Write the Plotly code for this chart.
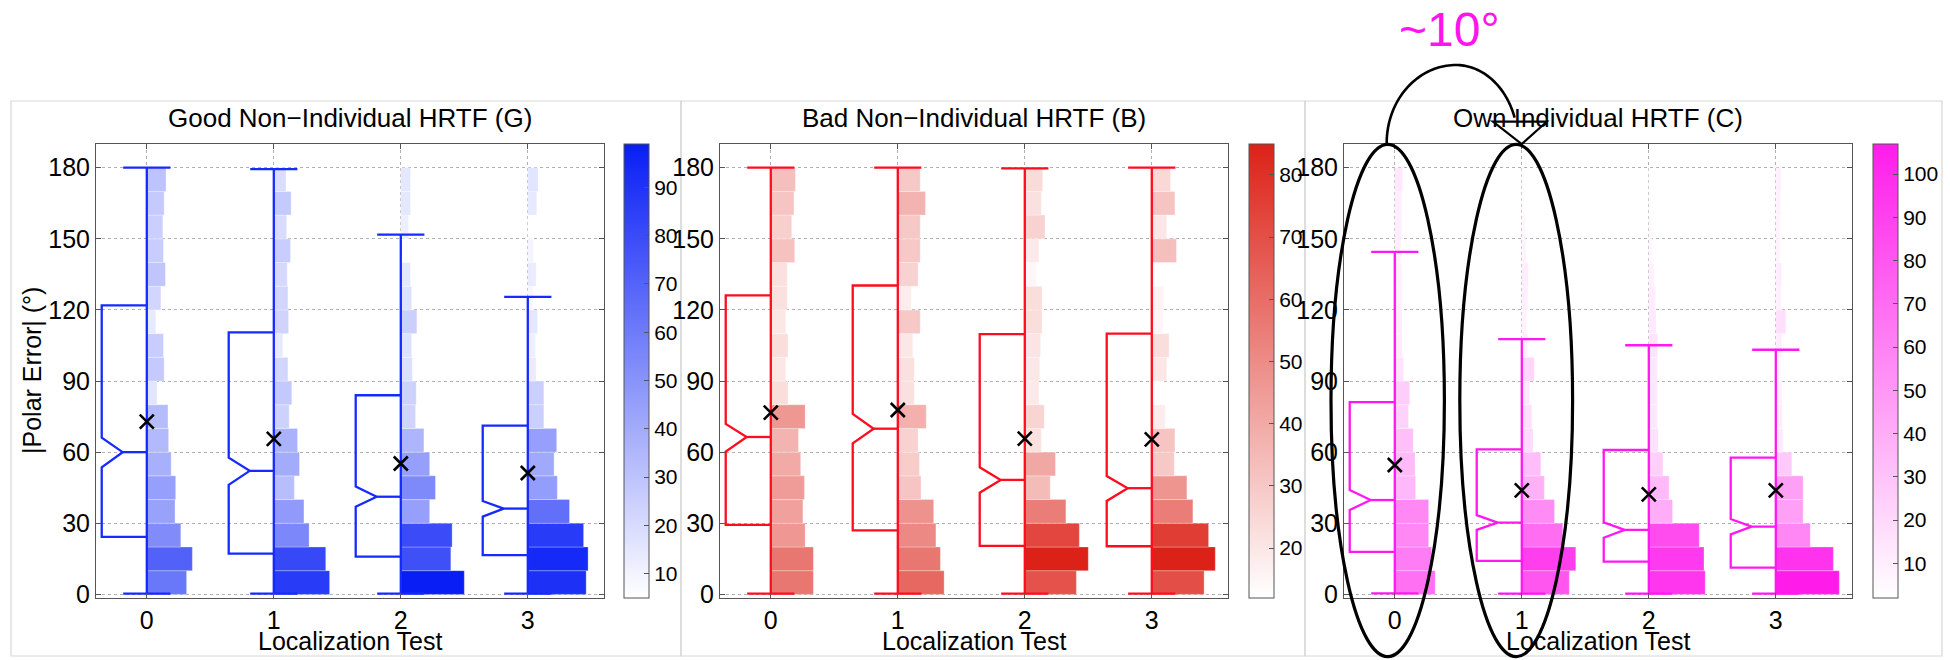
import plotly.graph_objects as go
import math

W, H = 1950, 660

# ---------------- data ----------------
tests = [0, 1, 2, 3]
test_labels = ["0", "1", "2", "3"]
bin_centers = [5, 15, 25, 35, 45, 55, 65, 75, 85, 95, 105, 115, 125, 135, 145, 155, 165, 175]
y_ticks = [0, 30, 60, 90, 120, 150, 180]

panel_titles = ["Good Non\u2212Individual HRTF (G)", "Bad Non\u2212Individual HRTF (B)", "Own Individual HRTF (C)"]

# histogram counts per 10-degree bin (0-10 ... 170-180), one row per localization test
good_counts = [
    [62, 71, 53, 44, 45, 38, 34, 33, 16, 27, 26, 14, 22, 29, 26, 25, 27, 30],
    [87, 81, 55, 47, 32, 40, 37, 24, 28, 22, 14, 23, 22, 21, 26, 20, 27, 19],
    [99, 78, 80, 45, 54, 45, 36, 23, 24, 18, 17, 25, 17, 15, 0, 12, 15, 15],
    [91, 94, 87, 65, 46, 41, 45, 25, 25, 13, 12, 15, 8, 13, 9, 5, 14, 16],
]
bad_counts = [
    [57, 57, 46, 43, 45, 40, 37, 46, 23, 20, 23, 20, 22, 22, 32, 28, 31, 33],
    [62, 57, 51, 48, 31, 29, 27, 38, 22, 22, 20, 30, 18, 27, 30, 30, 37, 30],
    [69, 85, 73, 55, 34, 41, 22, 26, 19, 20, 21, 23, 23, 15, 19, 27, 22, 24],
    [70, 85, 76, 55, 47, 30, 31, 18, 12, 20, 23, 15, 16, 12, 33, 20, 31, 25],
]
own_counts = [
    [68, 62, 57, 57, 35, 34, 31, 23, 25, 15, 12, 12, 11, 11, 10, 11, 11, 13],
    [80, 91, 69, 55, 38, 32, 19, 17, 13, 21, 10, 8, 10, 11, 7, 6, 4, 4],
    [95, 93, 85, 40, 34, 24, 16, 14, 14, 14, 15, 12, 11, 9, 6, 5, 4, 2],
    [107, 97, 58, 46, 46, 27, 12, 11, 10, 8, 10, 17, 9, 10, 7, 7, 8, 9],
]

# box statistics per test
good_whisker_hi = [180, 179.4, 151.8, 125.5]
good_whisker_lo = [0.3, 0.3, 0.3, 0.3]
good_q3 = [121.9, 110.5, 84.0, 71.2]
good_notch_hi = [66.1, 57.7, 45.5, 39.4]
good_median = [60.0, 52.1, 41.2, 36.2]
good_notch_lo = [53.6, 46.2, 37.0, 32.8]
good_q1 = [24.3, 17.2, 15.9, 16.6]
good_mean = [72.9, 65.6, 55.2, 51.2]

bad_whisker_hi = [180, 180, 179.7, 180]
bad_whisker_lo = [0.3, 0.3, 0.3, 0.3]
bad_q3 = [126.1, 130.3, 109.8, 110.0]
bad_notch_hi = [71.9, 76.1, 53.6, 49.9]
bad_median = [66.4, 69.9, 48.3, 44.8]
bad_notch_lo = [60.2, 63.7, 42.9, 39.4]
bad_q1 = [29.3, 27.0, 20.5, 20.3]
bad_mean = [76.7, 77.8, 65.7, 65.4]

own_whisker_hi = [144.5, 107.7, 105.1, 103.2]
own_whisker_lo = [0.4, 0.3, 0.3, 0.3]
own_q3 = [81.1, 61.2, 60.9, 57.7]
own_notch_hi = [44.0, 33.4, 30.4, 31.8]
own_median = [39.8, 30.3, 27.2, 28.6]
own_notch_lo = [35.6, 27.2, 23.9, 25.3]
own_q1 = [17.9, 14.1, 13.8, 11.3]
own_mean = [54.6, 43.9, 42.2, 43.9]

annot_text = "~10\u00b0"

# ---------------- styling / layout ----------------
FONT = "Liberation Sans, Arial, Helvetica, sans-serif"
BOX_W = 0.355      # half-box width (x units)
NOTCH_X = 0.19     # notch depth position
CAP_W = 0.186      # whisker cap half-width
BAR_MAX = 0.5      # width of the largest histogram bar

def px_x(p):
    return p / W

def px_y(p):
    return 1 - p / H

panels = [
    dict(counts=good_counts, whi=good_whisker_hi, wlo=good_whisker_lo, q3=good_q3, nhi=good_notch_hi,
         med=good_median, nlo=good_notch_lo, q1=good_q1, mean=good_mean,
         line="rgb(22,42,255)", top="rgb(8,30,245)",
         ax=(96, 604), cb=623.5, frame=(11, 681)),
    dict(counts=bad_counts, whi=bad_whisker_hi, wlo=bad_whisker_lo, q3=bad_q3, nhi=bad_notch_hi,
         med=bad_median, nlo=bad_notch_lo, q1=bad_q1, mean=bad_mean,
         line="rgb(255,12,30)", top="rgb(220,34,24)",
         ax=(720, 1228), cb=1249, frame=(681, 1305)),
    dict(counts=own_counts, whi=own_whisker_hi, wlo=own_whisker_lo, q3=own_q3, nhi=own_notch_hi,
         med=own_median, nlo=own_notch_lo, q1=own_q1, mean=own_mean,
         line="rgb(255,25,240)", top="rgb(255,28,235)",
         ax=(1344, 1852), cb=1873, frame=(1305, 1942)),
]

AX_TOP, AX_BOT = 144, 597.7

fig = go.Figure()
shapes = []
annotations = []

for i, p in enumerate(panels):
    xa = "x" if i == 0 else f"x{i+1}"
    ya = "y" if i == 0 else f"y{i+1}"
    flat = [c for row in p["counts"] for c in row if c > 0]
    cmin, cmax = min(flat), max(flat)

    bx, by, bbase, bcol = [], [], [], []
    for t, row in zip(tests, p["counts"]):
        for yc, c in zip(bin_centers, row):
            if c > 0:
                bx.append(BAR_MAX * c / cmax)
                by.append(yc)
                bbase.append(t)
                bcol.append(c)

    fig.add_trace(go.Bar(
        orientation="h", x=bx, y=by, base=bbase, width=10,
        marker=dict(
            color=bcol, cmin=cmin, cmax=cmax,
            colorscale=[[0, "rgb(255,255,255)"], [1, p["top"]]],
            line=dict(width=0.8, color="rgba(255,255,255,0.35)"),
            showscale=True,
            colorbar=dict(
                x=px_x(p["cb"]), xanchor="left", xref="paper",
                y=px_y((AX_TOP + AX_BOT) / 2), yanchor="middle", yref="paper",
                thickness=25, thicknessmode="pixels",
                len=AX_BOT - AX_TOP, lenmode="pixels",
                xpad=0, ypad=0,
                outlinecolor="#555555", outlinewidth=1,
                ticks="inside", ticklen=5, tickcolor="#555555",
                tick0=0, dtick=10,
                tickfont=dict(family=FONT, size=21, color="black"),
            ),
        ),
        xaxis=xa, yaxis=ya, hoverinfo="skip", showlegend=False,
    ))

    lx, ly = [], []
    for k, t in enumerate(tests):
        lx += [t, t - BOX_W, t - BOX_W, t - NOTCH_X, t - BOX_W, t - BOX_W, t, None]
        ly += [p["q3"][k], p["q3"][k], p["nhi"][k], p["med"][k], p["nlo"][k], p["q1"][k], p["q1"][k], None]
        lx += [t - NOTCH_X, t, None]
        ly += [p["med"][k], p["med"][k], None]
        lx += [t, t, None]
        ly += [p["wlo"][k], p["whi"][k], None]
        lx += [t - CAP_W, t + CAP_W, None, t - CAP_W, t + CAP_W, None]
        ly += [p["whi"][k], p["whi"][k], None, p["wlo"][k], p["wlo"][k], None]

    fig.add_trace(go.Scatter(
        x=lx, y=ly, mode="lines", line=dict(color=p["line"], width=2.3),
        xaxis=xa, yaxis=ya, hoverinfo="skip", showlegend=False,
    ))

    fig.add_trace(go.Scatter(
        x=tests, y=p["mean"], mode="markers",
        marker=dict(symbol="x-thin", size=14, line=dict(width=2.6, color="black")),
        xaxis=xa, yaxis=ya, hoverinfo="skip", showlegend=False,
    ))

    axis_common = dict(
        showline=True, mirror="ticks", linecolor="#555555", linewidth=1,
        ticks="inside", ticklen=5, tickcolor="#555555",
        showgrid=True, gridcolor="#b0b0b0", gridwidth=1, griddash="dot",
        zeroline=False, tickfont=dict(family=FONT, size=25, color="black"),
        automargin=False,
    )
    xkey = "xaxis" if i == 0 else f"xaxis{i+1}"
    ykey = "yaxis" if i == 0 else f"yaxis{i+1}"
    fig.update_layout(**{
        xkey: dict(axis_common, domain=[px_x(p["ax"][0]), px_x(p["ax"][1])], range=[-0.4, 3.6],
                   tickvals=tests, ticktext=test_labels, anchor=ya),
        ykey: dict(axis_common, domain=[px_y(AX_BOT), px_y(AX_TOP)], range=[-1.4, 190],
                   tickvals=y_ticks, anchor=xa),
    })

    cx = (p["ax"][0] + p["ax"][1]) / 2
    annotations.append(dict(text=panel_titles[i], x=px_x(cx), y=px_y(118), xref="paper", yref="paper",
                            showarrow=False, xanchor="center", yanchor="middle",
                            font=dict(family=FONT, size=26, color="black")))
    annotations.append(dict(text="Localization Test", x=px_x(cx), y=px_y(641), xref="paper", yref="paper",
                            showarrow=False, xanchor="center", yanchor="middle",
                            font=dict(family=FONT, size=25, color="black")))
    shapes.append(dict(type="rect", xref="paper", yref="paper",
                       x0=px_x(p["frame"][0]), x1=px_x(p["frame"][1]), y0=px_y(656), y1=px_y(101),
                       line=dict(color="#d8d8d8", width=1.2), layer="below"))

annotations.append(dict(text="|Polar Error| (\u00b0)", x=px_x(32), y=px_y(371), xref="paper", yref="paper",
                        showarrow=False, textangle=-90, xanchor="center", yanchor="middle",
                        font=dict(family=FONT, size=25, color="black")))

annotations.append(dict(text=annot_text, x=px_x(1449), y=px_y(30), xref="paper", yref="paper",
                        showarrow=False, xanchor="center", yanchor="middle",
                        font=dict(family=FONT, size=48, color="rgb(255,20,238)")))

for (x0, x1) in [(1331, 1444.4), (1459.8, 1572.6)]:
    shapes.append(dict(type="circle", xref="paper", yref="paper",
                       x0=px_x(x0), x1=px_x(x1), y0=px_y(656.6), y1=px_y(144.4),
                       line=dict(color="black", width=3.2), layer="above"))

pts = []
cxa, cya, ry = 1456.0, 143.0, 78.0
for k in range(0, 46):
    a = math.pi - k * (math.pi / 2) / 45
    pts.append((cxa + 69.3 * math.cos(a), cya - ry * math.sin(a)))
for k in range(1, 40):
    a = math.pi / 2 - k * (math.radians(71)) / 39
    pts.append((cxa + 62.0 * math.cos(a), cya - ry * math.sin(a)))
path = "M " + " L ".join(f"{px_x(x):.5f},{px_y(y):.5f}" for x, y in pts)
shapes.append(dict(type="path", xref="paper", yref="paper", path=path,
                   line=dict(color="black", width=2.6), layer="above"))
tri = [(1493, 121.7), (1546.7, 121.7), (1521.7, 144)]
tpath = "M " + " L ".join(f"{px_x(x):.5f},{px_y(y):.5f}" for x, y in tri) + " Z"
shapes.append(dict(type="path", xref="paper", yref="paper", path=tpath,
                   line=dict(color="black", width=2.2), layer="above"))

fig.update_layout(
    width=W, height=H, autosize=False,
    margin=dict(l=0, r=0, t=0, b=0, pad=0, autoexpand=False),
    paper_bgcolor="white", plot_bgcolor="white",
    barmode="overlay", showlegend=False,
    shapes=shapes, annotations=annotations,
    font=dict(family=FONT, color="black"),
)

fig.write_html("out.html")
